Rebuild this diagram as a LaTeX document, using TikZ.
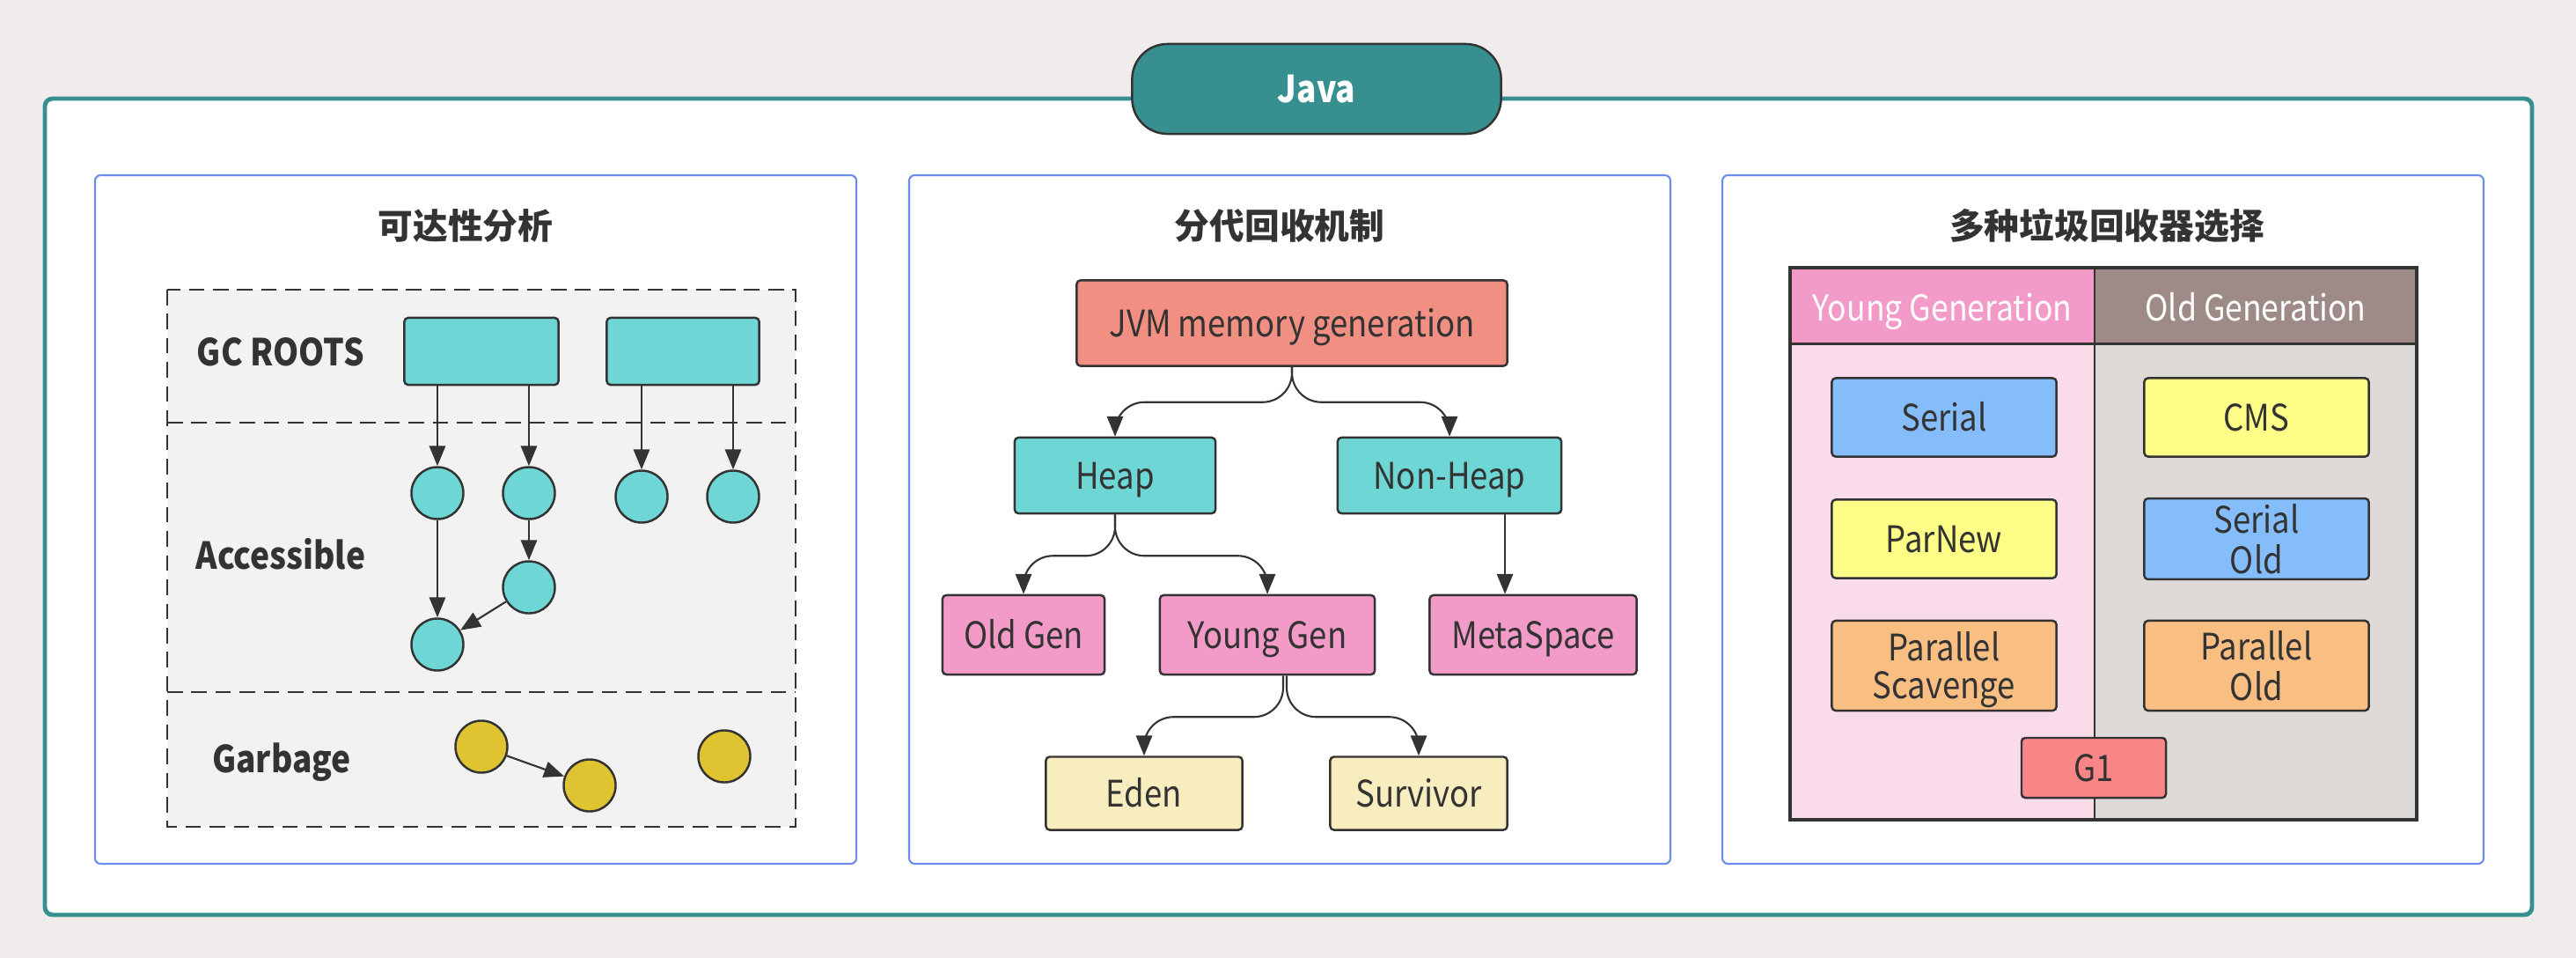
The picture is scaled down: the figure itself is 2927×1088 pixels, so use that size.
\documentclass[tikz,border=0pt]{standalone}
\usepackage{fontspec}
\setmainfont{Noto Sans CJK SC}
\newfontfamily\narrowf{Noto Sans CJK SC}[FakeStretch=0.88]
\usetikzlibrary{arrows.meta}
\newcommand{\twolines}[2]{\raisebox{-1.7pt}[\height][\depth]{\begin{tabular}{@{}c@{}}#1\\#2\end{tabular}}}

\definecolor{bgc}{HTML}{F0ECEB}
\definecolor{linec}{HTML}{333333}
\definecolor{javac}{HTML}{378F8F}
\definecolor{panelc}{HTML}{6C8BEA}
\definecolor{zonec}{HTML}{F2F2F2}
\definecolor{cyanc}{HTML}{6FD6D6}
\definecolor{garbc}{HTML}{DFC330}
\definecolor{jvmc}{HTML}{F08F82}
\definecolor{pinkc}{HTML}{F29AC8}
\definecolor{creamc}{HTML}{F7EDBE}
\definecolor{yheadc}{HTML}{F29AC8}
\definecolor{ybodyc}{HTML}{F9DBEA}
\definecolor{oheadc}{HTML}{9E8B87}
\definecolor{obodyc}{HTML}{DEDAD7}
\definecolor{serialc}{HTML}{85BDFB}
\definecolor{parnewc}{HTML}{FDFD87}
\definecolor{parallc}{HTML}{F8BE82}
\definecolor{gonec}{HTML}{F98686}

\begin{document}
\begin{tikzpicture}[
  x=0.01cm, y=-0.01cm,
  box/.style={draw=linec, line width=0.7pt, rounded corners=1.2pt, inner sep=0pt,
              align=center, text=linec, font=\narrowf\fontsize{11.8}{12.2}\selectfont},
  one/.style={text height=0.93em, text depth=0.06em},
  dot/.style={circle, draw=linec, line width=0.7pt, minimum size=0.59cm, inner sep=0pt},
  flow/.style={-{Triangle[length=6.5pt, width=5.2pt]}, draw=linec, line width=0.6pt},
  branch/.style={flow, rounded corners=9.5pt},
  panel/.style={draw=panelc, line width=0.6pt, fill=white, rounded corners=1.8pt},
  zone/.style={draw=linec, line width=0.7pt, dash pattern=on 5pt off 2.8pt},
  title/.style={text=linec, font=\fontsize{11.3}{13}\selectfont\bfseries},
  lab/.style={text=linec, font=\narrowf\fontsize{12}{14}\selectfont\bfseries},
  head/.style={inner sep=0pt, text=white, text height=0.98em, text depth=0em,
               font=\narrowf\fontsize{11.5}{13}\selectfont}
]
\useasboundingbox (0,0) rectangle (2927,1088);
\fill[bgc] (0,0) rectangle (2927,1088);

% outer frame and heading
\draw[line width=1.4pt, draw=javac, fill=white, rounded corners=2.5pt] (51,112) rectangle (2877,1039);
\node[fill=javac, draw=linec, line width=0.7pt, rounded corners=0.4cm, minimum width=4.19cm,
      minimum height=1.02cm, text=white, font=\narrowf\fontsize{12}{14}\selectfont\bfseries] (java) at (1496,101) {Java};

% panels
\draw[panel] (108,199) rectangle (973,981);
\draw[panel] (1033,199) rectangle (1898,981);
\draw[panel] (1957,199) rectangle (2822,981);

\node[title] (reach) at (529,256) {可达性分析};
\node[title] (gens) at (1454,256) {分代回收机制};
\node[title] (pick) at (2394,256) {多种垃圾回收器选择};

% reachability
\draw[zone, fill=zonec] (190,329) rectangle (904,939);
\draw[zone] (190,480) -- (904,480);
\draw[zone] (190,786) -- (904,786);

\node[lab] (rootlab) at (319,400) {GC ROOTS};
\node[lab] (acclab) at (319,629) {Accessible};
\node[lab] (garblab) at (320,866) {Garbage};

\node[box, fill=cyanc, minimum width=1.75cm, minimum height=0.76cm] (rootA) at (547,399) {};
\node[box, fill=cyanc, minimum width=1.73cm, minimum height=0.76cm] (rootB) at (776,399) {};

\node[dot, fill=cyanc] (acA) at (497,560) {};
\node[dot, fill=cyanc] (acB) at (601,560) {};
\node[dot, fill=cyanc] (acC) at (729,564) {};
\node[dot, fill=cyanc] (acD) at (833,564) {};
\node[dot, fill=cyanc] (acE) at (601,667) {};
\node[dot, fill=cyanc] (acF) at (497,732) {};

\node[dot, fill=garbc] (gbA) at (547,848) {};
\node[dot, fill=garbc] (gbB) at (670,892) {};
\node[dot, fill=garbc] (gbC) at (823,859) {};

\draw[flow] (acA |- rootA.south) -- (acA);
\draw[flow] (acB |- rootA.south) -- (acB);
\draw[flow] (acC |- rootB.south) -- (acC);
\draw[flow] (acD |- rootB.south) -- (acD);
\draw[flow] (acB) -- (acE);
\draw[flow] (acA) -- (acF);
\draw[flow] (acE) -- (acF);
\draw[flow] (gbA) -- (gbB);

% generations
\node[box, one, fill=jvmc, minimum width=4.89cm, minimum height=0.97cm] (jvm) at (1468,367) {JVM memory generation};
\node[box, one, fill=cyanc, minimum width=2.28cm, minimum height=0.86cm] (heap) at (1267,540) {Heap};
\node[box, one, fill=cyanc, minimum width=2.54cm, minimum height=0.86cm] (nonheap) at (1647,540) {Non-Heap};
\node[box, one, fill=pinkc, minimum width=1.84cm, minimum height=0.9cm] (oldgen) at (1163,721) {Old Gen};
\node[box, one, fill=pinkc, minimum width=2.44cm, minimum height=0.9cm] (younggen) at (1440,721) {Young Gen};
\node[box, one, fill=pinkc, minimum width=2.35cm, minimum height=0.9cm] (meta) at (1742,721) {MetaSpace};
\node[box, one, fill=creamc, minimum width=2.23cm, minimum height=0.83cm] (eden) at (1300,901) {Eden};
\node[box, one, fill=creamc, minimum width=2.01cm, minimum height=0.83cm] (survivor) at (1612,901) {Survivor};

\draw[branch] (jvm.south) -- ++(0,40) -| (heap.north);
\draw[branch] (jvm.south) -- ++(0,40) -| (nonheap.north);
\draw[branch] (heap.south) -- ++(0,47) -| (oldgen.north);
\draw[branch] (heap.south) -- ++(0,47) -| (younggen.north);
\draw[flow] ([xshift=0.63cm]nonheap.south) -- ([xshift=0.63cm]nonheap.south |- meta.north);
\draw[branch] ([xshift=0.18cm]younggen.south) -- ++(0,47) -| (eden.north);
\draw[branch] ([xshift=0.22cm]younggen.south) -- ++(0,47) -| (survivor.north);

% collectors
\fill[ybodyc] (2034,304) rectangle (2380,931);
\fill[obodyc] (2380,304) rectangle (2746,931);
\node[head, fill=yheadc, minimum width=3.46cm, minimum height=0.86cm] (yhead) at (2207,347) {Young Generation};
\node[head, fill=oheadc, minimum width=3.66cm, minimum height=0.86cm] (ohead) at (2563,347) {Old Generation};
\draw[linec, line width=0.8pt] (yhead.south west) -- (ohead.south east);
\draw[linec, line width=0.8pt] (2380,304) -- (2380,931);
\draw[linec, line width=0.9pt] (2034,304) rectangle (2746,931);

\node[box, one, fill=serialc, minimum width=2.55cm, minimum height=0.89cm] (serial) at (2209,474) {Serial};
\node[box, one, fill=parnewc, minimum width=2.55cm, minimum height=0.89cm] (parnew) at (2209,612) {ParNew};
\node[box, fill=parallc, minimum width=2.55cm, minimum height=1.02cm] (pscav) at (2209,756) {\twolines{Parallel}{Scavenge}};
\node[box, one, fill=parnewc, minimum width=2.55cm, minimum height=0.89cm] (cms) at (2564,474) {CMS};
\node[box, fill=serialc, minimum width=2.55cm, minimum height=0.89cm] (serold) at (2564,612) {\twolines{Serial}{Old}};
\node[box, fill=parallc, minimum width=2.55cm, minimum height=1.02cm] (parold) at (2564,756) {\twolines{Parallel}{Old}};
\node[box, one, fill=gonec, minimum width=1.64cm, minimum height=0.68cm] (gone) at (2379,872) {G1};
\end{tikzpicture}
\end{document}
